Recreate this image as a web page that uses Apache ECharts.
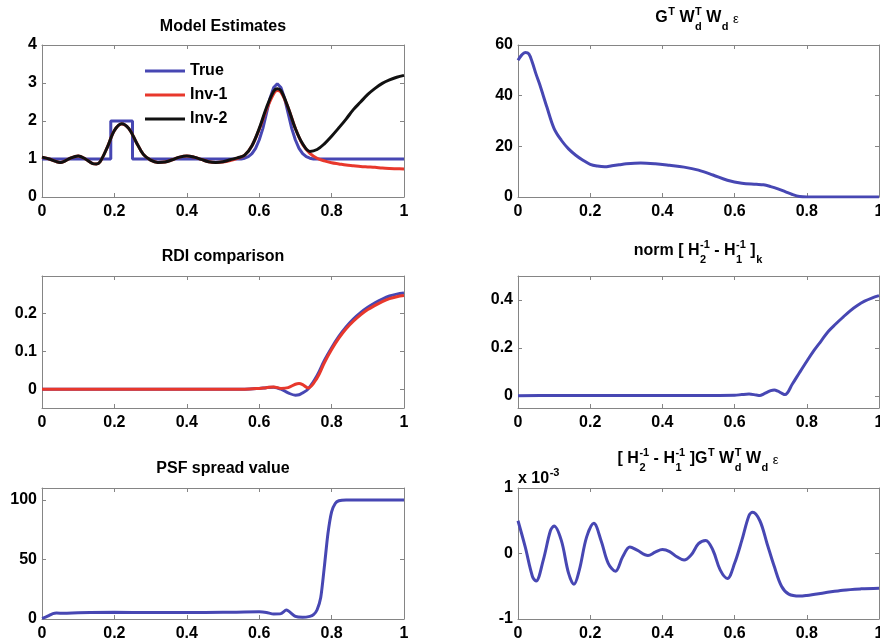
<!DOCTYPE html>
<html>
<head>
<meta charset="utf-8">
<script src="https://cdn.jsdelivr.net/npm/echarts@6/dist/echarts.min.js"></script>
<style>
  html, body { margin: 0; padding: 0; background: #fff; }
  #chart { width: 880px; height: 642px; }
</style>
</head>
<body>
<div id="chart"></div>
<script>
// ---- shared axis ticks ----
const xTickStep = 0.2;

// ---- Model Estimates ----
const trueX = [0, 0.19, 0.19, 0.25, 0.25, 0.55, 0.56, 0.57, 0.58, 0.59, 0.60, 0.61, 0.62, 0.63, 0.64, 0.65, 0.66, 0.67, 0.68, 0.69, 0.70, 0.71, 0.72, 0.73, 0.74, 0.75, 0.77, 1];
const trueY = [1, 1, 2, 2, 1, 1, 1.02, 1.06, 1.14, 1.28, 1.5, 1.8, 2.2, 2.6, 2.88, 2.98, 2.88, 2.6, 2.2, 1.8, 1.5, 1.28, 1.14, 1.06, 1.02, 1.0, 1.0, 1.0];

const invX = [0, 0.02, 0.04, 0.05, 0.06, 0.08, 0.10, 0.12, 0.14, 0.15, 0.16, 0.18, 0.20, 0.22, 0.24, 0.26, 0.28, 0.30, 0.32, 0.34, 0.36, 0.38, 0.40, 0.42, 0.44, 0.46, 0.48, 0.50, 0.52, 0.54, 0.56, 0.58, 0.60, 0.62, 0.64, 0.65, 0.66, 0.68, 0.70, 0.72, 0.74, 0.76, 0.78, 0.80, 0.82, 0.84, 0.86, 0.88, 0.90, 0.92, 0.94, 0.96, 0.98, 1.00];
const inv1Y = [1.05, 1.0, 0.93, 0.91, 0.93, 1.03, 1.08, 1.0, 0.88, 0.87, 0.92, 1.3, 1.75, 1.92, 1.8, 1.45, 1.12, 0.97, 0.91, 0.92, 0.98, 1.05, 1.08, 1.05, 0.99, 0.93, 0.91, 0.92, 0.96, 1.02, 1.1, 1.35, 1.78, 2.3, 2.72, 2.8, 2.76, 2.35, 1.8, 1.38, 1.15, 1.02, 0.95, 0.9, 0.87, 0.84, 0.82, 0.8, 0.79, 0.78, 0.76, 0.75, 0.745, 0.74];
const inv2Y = [1.05, 1.0, 0.93, 0.91, 0.93, 1.03, 1.08, 1.0, 0.88, 0.87, 0.92, 1.3, 1.75, 1.93, 1.8, 1.45, 1.12, 0.97, 0.91, 0.92, 0.98, 1.05, 1.08, 1.05, 0.99, 0.93, 0.91, 0.93, 0.98, 1.03, 1.1, 1.35, 1.8, 2.35, 2.78, 2.85, 2.8, 2.35, 1.8, 1.4, 1.2, 1.25, 1.4, 1.6, 1.82, 2.05, 2.3, 2.5, 2.7, 2.86, 2.99, 3.08, 3.15, 3.2];

// ---- G^T Wd^T Wd eps ----
const gradX = [0, 0.01, 0.02, 0.03, 0.04, 0.05, 0.06, 0.08, 0.10, 0.12, 0.14, 0.16, 0.18, 0.20, 0.22, 0.24, 0.26, 0.28, 0.30, 0.34, 0.38, 0.42, 0.46, 0.50, 0.54, 0.58, 0.62, 0.66, 0.68, 0.70, 0.72, 0.74, 0.76, 0.78, 0.80, 0.90, 1.00];
const gradY = [54, 56, 57, 56.5, 53, 48.5, 44.5, 35.5, 27, 22.4, 19, 16.5, 14.5, 12.9, 12.2, 11.9, 12.3, 12.7, 13.1, 13.4, 13.1, 12.5, 11.8, 10.6, 8.7, 6.6, 5.4, 5.0, 4.8, 4.1, 3.2, 2.1, 1.0, 0.2, 0, 0, 0];

// ---- RDI comparison ----
const rdiX = [0, 0.1, 0.2, 0.3, 0.4, 0.5, 0.56, 0.6, 0.62, 0.64, 0.66, 0.68, 0.70, 0.71, 0.72, 0.735, 0.76, 0.78, 0.80, 0.82, 0.84, 0.86, 0.88, 0.90, 0.92, 0.94, 0.96, 0.98, 1.0];
const rdiRef = [0, 0, 0, 0, 0, 0, 0, 0.002, 0.004, 0.005, 0.0, -0.01, -0.016, -0.015, -0.01, 0.0, 0.036, 0.076, 0.11, 0.14, 0.165, 0.186, 0.203, 0.217, 0.229, 0.239, 0.247, 0.252, 0.255];
const rdiInv1 = [0, 0, 0, 0, 0, 0, 0, 0.002, 0.004, 0.006, 0.002, 0.004, 0.013, 0.015, 0.012, 0.003, 0.03, 0.07, 0.105, 0.135, 0.16, 0.18, 0.197, 0.211, 0.222, 0.232, 0.24, 0.245, 0.248];

// ---- norm [H2^-1 - H1^-1]_k ----
const normX = [0, 0.1, 0.2, 0.3, 0.4, 0.5, 0.6, 0.62, 0.64, 0.66, 0.67, 0.68, 0.70, 0.71, 0.72, 0.73, 0.74, 0.76, 0.78, 0.80, 0.82, 0.84, 0.86, 0.88, 0.90, 0.92, 0.94, 0.96, 0.98, 1.0];
const normY = [0.001, 0.002, 0.002, 0.002, 0.002, 0.002, 0.003, 0.006, 0.008, 0.004, 0.002, 0.008, 0.022, 0.025, 0.02, 0.012, 0.006, 0.05, 0.098, 0.145, 0.19, 0.23, 0.27, 0.3, 0.328, 0.355, 0.377, 0.395, 0.408, 0.418];

// ---- PSF spread value ----
const psfX = [0, 0.01, 0.02, 0.03, 0.04, 0.06, 0.1, 0.2, 0.3, 0.4, 0.5, 0.6, 0.62, 0.64, 0.66, 0.675, 0.70, 0.72, 0.74, 0.75, 0.76, 0.77, 0.78, 0.79, 0.80, 0.81, 0.82, 0.84, 0.9, 1.0];
const psfY = [0.5, 1.5, 3, 4.5, 5, 4.8, 5.2, 5.6, 5.5, 5.4, 5.6, 6, 5.5, 4.2, 4.5, 7.5, 2.2, 1.4, 2.2, 3.6, 7.8, 18, 44, 72, 90, 97, 99.3, 100, 100, 100];

// ---- [H2^-1 - H1^-1] G^T Wd^T Wd eps  (units of 1e-3) ----
const corrX = [0, 0.02, 0.04, 0.05, 0.07, 0.09, 0.10, 0.12, 0.14, 0.155, 0.17, 0.19, 0.21, 0.23, 0.25, 0.27, 0.29, 0.31, 0.33, 0.36, 0.38, 0.40, 0.42, 0.44, 0.46, 0.48, 0.50, 0.52, 0.54, 0.56, 0.58, 0.60, 0.62, 0.64, 0.65, 0.67, 0.69, 0.71, 0.73, 0.75, 0.78, 0.80, 0.85, 0.90, 0.95, 1.0];
const corrY = [0.5, 0.1, -0.35, -0.42, -0.1, 0.35, 0.42, 0.2, -0.3, -0.47, -0.25, 0.25, 0.46, 0.2, -0.15, -0.27, -0.05, 0.1, 0.05, -0.03, 0.02, 0.06, 0.03, -0.05, -0.1, -0.02, 0.15, 0.2, 0.05, -0.25, -0.38, -0.15, 0.2, 0.58, 0.63, 0.5, 0.15, -0.2, -0.5, -0.62, -0.65, -0.64, -0.6, -0.56, -0.54, -0.53];

// ---- styling ----
const FONT = '"Liberation Sans", Arial, Helvetica, sans-serif';
const FRAME = '#858585';
const BLUE = '#4747b3';
const RED = '#e8382c';
const BLACK = '#111111';

const zip = (xs, ys) => xs.map((x, i) => [x, ys[i]]);

const panels = [
  { left: 42,  top: 45,  width: 362, height: 152, yMin: 0,     yMax: 4,   yInterval: 1 },
  { left: 518, top: 45,  width: 361, height: 152, yMin: 0,     yMax: 60,  yInterval: 20 },
  { left: 42,  top: 276, width: 362, height: 132, yMin: -0.05, yMax: 0.3, yTicks: [0, 0.1, 0.2] },
  { left: 518, top: 276, width: 361, height: 132, yMin: -0.05, yMax: 0.5, yTicks: [0, 0.2, 0.4] },
  { left: 42,  top: 488, width: 362, height: 131, yMin: 0,     yMax: 110, yTicks: [0, 50, 100] },
  { left: 518, top: 488, width: 361, height: 131, yMin: -1,    yMax: 1,   yInterval: 1 }
];

const labelStyle = { color: '#000', fontFamily: FONT, fontWeight: 'bold', fontSize: 16 };
const grids = [], xAxes = [], yAxes = [];
panels.forEach((p, i) => {
  grids.push({ left: p.left, top: p.top, width: p.width, height: p.height, outerBoundsMode: 'none', containLabel: false });
  ['bottom', 'top'].forEach(pos => {
    xAxes.push({
      type: 'value', gridIndex: i, position: pos, min: 0, max: 1, interval: xTickStep,
      axisLine: { show: true, onZero: false, lineStyle: { color: FRAME, width: 1 } },
      axisTick: { show: true, inside: true, length: 4, lineStyle: { color: FRAME } },
      axisLabel: pos === 'bottom' ? Object.assign({ margin: 7 }, labelStyle) : { show: false },
      splitLine: { show: false }
    });
  });
  ['left', 'right'].forEach(pos => {
    const ax = {
      type: 'value', gridIndex: i, position: pos, min: p.yMin, max: p.yMax,
      axisLine: { show: true, onZero: false, lineStyle: { color: FRAME, width: 1 } },
      axisTick: { show: true, inside: true, length: 4, lineStyle: { color: FRAME } },
      axisLabel: pos === 'left' ? Object.assign({ margin: 5 }, labelStyle) : { show: false },
      splitLine: { show: false }
    };
    if (p.yTicks) {
      ax.axisTick.customValues = p.yTicks;
      ax.axisLabel.customValues = p.yTicks;
    } else {
      ax.interval = p.yInterval;
    }
    yAxes.push(ax);
  });
});

function line(panel, name, data, color, opts) {
  return Object.assign({
    type: 'line', name: name, xAxisIndex: panel * 2, yAxisIndex: panel * 2,
    data: data, showSymbol: false, symbol: 'none', smooth: 0.35,
    lineStyle: { color: color, width: 3 }, itemStyle: { color: color },
    animation: false, silent: true, z: 3
  }, opts || {});
}

const series = [
  line(0, 'True', zip(trueX, trueY), BLUE, { smooth: false, z: 2 }),
  line(0, 'Inv-1', zip(invX, inv1Y), RED, { z: 3 }),
  line(0, 'Inv-2', zip(invX, inv2Y), BLACK, { z: 4 }),
  line(1, 'grad', zip(gradX, gradY), BLUE),
  line(2, 'rdiRef', zip(rdiX, rdiRef), BLUE, { z: 2 }),
  line(2, 'rdiInv1', zip(rdiX, rdiInv1), RED, { z: 3 }),
  line(3, 'norm', zip(normX, normY), BLUE),
  line(4, 'psf', zip(psfX, psfY), BLUE, { smooth: 0.25 }),
  line(5, 'corr', zip(corrX, corrY), BLUE)
];

// ---- titles with super/subscripts ----
const measureCtx = document.createElement('canvas').getContext('2d');
function textWidth(s, font) { measureCtx.font = font; return measureCtx.measureText(s).width; }

const MAIN_FONT = 'bold 16px ' + FONT;
const SCRIPT_FONT = 'bold 11px ' + FONT;
const EPS_FONT = '13px ' + FONT;

function mathTitle(tokens, cx, cy, alignLeft) {
  const pieces = [];
  let x = 0;
  tokens.forEach(tk => {
    const font = tk.eps ? EPS_FONT : MAIN_FONT;
    const w = textWidth(tk.t, font);
    pieces.push({ text: tk.t, x: x, dy: tk.eps ? 1 : 0, font: font });
    x += w;
    let sw = 0;
    if (tk.sup) {
      pieces.push({ text: tk.sup, x: x + 0.5, dy: -6, font: SCRIPT_FONT });
      sw = Math.max(sw, textWidth(tk.sup, SCRIPT_FONT) + 0.5);
    }
    if (tk.sub) {
      pieces.push({ text: tk.sub, x: x + 0.5, dy: 9, font: SCRIPT_FONT });
      sw = Math.max(sw, textWidth(tk.sub, SCRIPT_FONT) + 0.5);
    }
    x += sw;
  });
  const startX = alignLeft ? cx : cx - x / 2;
  return pieces.map(pc => ({
    type: 'text', silent: true,
    style: {
      text: pc.text, x: startX + pc.x, y: cy + pc.dy, font: pc.font, fill: '#000',
      textAlign: 'left', textVerticalAlign: 'middle'
    }
  }));
}

function plainTitle(text, cx, cy) {
  return {
    type: 'text', silent: true,
    style: { text: text, x: cx, y: cy, font: MAIN_FONT, fill: '#000', textAlign: 'center', textVerticalAlign: 'middle' }
  };
}

const graphic = [
  plainTitle('Model Estimates', 223, 27),
  plainTitle('RDI comparison', 223, 257),
  plainTitle('PSF spread value', 223, 469),
  ...mathTitle([
    { t: 'G', sup: 'T' }, { t: ' ' }, { t: 'W', sup: 'T', sub: 'd' }, { t: ' ' },
    { t: 'W', sub: 'd' }, { t: ' ' }, { t: 'ε', eps: true }
  ], 697, 18),
  ...mathTitle([
    { t: 'norm [ ' }, { t: 'H', sup: '-1', sub: '2' }, { t: ' - ' },
    { t: 'H', sup: '-1', sub: '1' }, { t: ' ]', sub: 'k' }
  ], 698, 251),
  ...mathTitle([
    { t: '[ ' }, { t: 'H', sup: '-1', sub: '2' }, { t: ' - ' }, { t: 'H', sup: '-1', sub: '1' },
    { t: ' ]' }, { t: 'G', sup: 'T' }, { t: ' ' }, { t: 'W', sup: 'T', sub: 'd' }, { t: ' ' },
    { t: 'W', sub: 'd' }, { t: ' ' }, { t: 'ε', eps: true }
  ], 698, 459),
  ...mathTitle([{ t: 'x 10', sup: '-3' }], 518, 479, true)
];

const chart = echarts.init(document.getElementById('chart'), null, { renderer: 'canvas' });
chart.setOption({
  backgroundColor: '#fff',
  animation: false,
  grid: grids,
  xAxis: xAxes,
  yAxis: yAxes,
  legend: {
    data: ['True', 'Inv-1', 'Inv-2'],
    orient: 'vertical', left: 145, top: 62, padding: 0,
    icon: 'path://M0,0 L40,0 L40,3 L0,3 Z',
    itemWidth: 40, itemHeight: 3, itemGap: 6, selectedMode: false,
    textStyle: { color: '#000', fontFamily: FONT, fontWeight: 'bold', fontSize: 16, lineHeight: 18 }
  },
  series: series,
  graphic: graphic
});
</script>
</body>
</html>
